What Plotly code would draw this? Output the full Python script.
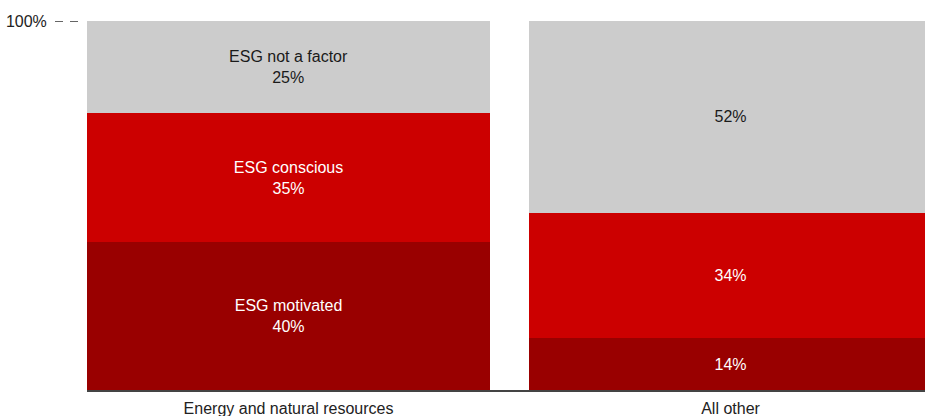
import plotly.graph_objects as go

# Sector groups and the share of each ESG attitude (percent)
categories = ["Energy and natural resources", "All other"]
segment_names = ["ESG motivated", "ESG conscious", "ESG not a factor"]
motivated = [40, 14]
conscious = [35, 34]
not_a_factor = [25, 52]
segment_colors = ["#990000", "#cc0000", "#cccccc"]
text_colors = ["#ffffff", "#ffffff", "#1a1a1a"]

series = [motivated, conscious, not_a_factor]
x_pos = list(range(len(categories)))
bar_width = 0.912

fig = go.Figure()
for name, vals, col, tcol in zip(segment_names, series, segment_colors, text_colors):
    labels = []
    for i, v in enumerate(vals):
        # only the first group spells out the segment name
        labels.append(f"{name}<br>{v}%" if i == 0 else f"{v}%")
    fig.add_trace(go.Bar(
        x=x_pos, y=vals, name=name, width=bar_width,
        marker=dict(color=col, line=dict(width=0)),
        text=labels, textposition="inside", insidetextanchor="middle",
        textangle=0, textfont=dict(color=tcol, size=16),
        hoverinfo="skip",
    ))

fig.update_layout(
    barmode="stack",
    width=925, height=416,
    margin=dict(l=87, r=0, t=21, b=26),
    paper_bgcolor="white", plot_bgcolor="white",
    showlegend=False,
    font=dict(family="Liberation Sans, Arial, sans-serif", size=16, color="#222222"),
    uniformtext=dict(mode=False),
    xaxis=dict(
        range=[-bar_width / 2, 1.44],
        tickvals=x_pos, ticktext=categories,
        showline=True, linecolor="#444444", linewidth=2,
        ticks="outside", ticklen=3, tickcolor="rgba(0,0,0,0)",
        showgrid=False, zeroline=False, fixedrange=True,
    ),
    yaxis=dict(
        range=[0, 100],
        tickvals=[100], ticktext=["100%"],
        ticks="outside", ticklen=36, tickcolor="rgba(0,0,0,0)",
        showgrid=False, zeroline=False, showline=False, fixedrange=True,
    ),
)

# dashed leader beside the 100% tick
fig.add_shape(type="line", xref="paper", yref="y",
              x0=-32 / 838, x1=-9 / 838, y0=100, y1=100,
              line=dict(color="#333333", width=1.5, dash="8px,7px"))

fig.write_html("out.html")
